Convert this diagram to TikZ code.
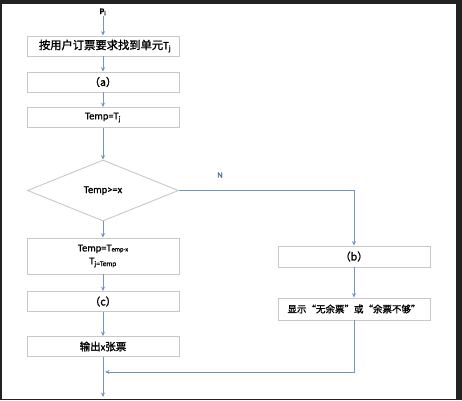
\documentclass[tikz,border=0pt]{standalone}
\usepackage{fontspec}
\setmainfont{Carlito}[FakeBold=1]
\newfontfamily\cjk{Noto Sans CJK SC}[FakeBold=1.5]
\usetikzlibrary{shapes.geometric,arrows.meta}
\definecolor{arrowc}{HTML}{7096C4}
\definecolor{boxc}{HTML}{C8C8C8}
\definecolor{framec}{HTML}{222222}
\definecolor{labc}{HTML}{4A6A96}
\tikzset{
  box/.style={draw=boxc, line width=0.9pt, minimum width=152pt, minimum height=20pt, inner sep=0pt, align=center, font=\fontsize{10.5}{12}\selectfont},
  flow/.style={draw=arrowc, line width=0.9pt, -{Stealth[length=4.5pt,width=4pt]}}
}
\begin{document}
\begin{tikzpicture}[x=1pt,y=-1pt]
\fill[framec] (0,0) rectangle (462,400);
\fill[white] (2,4) rectangle (456,399);
\useasboundingbox (0,0) rectangle (462,400);

\node[font=\fontsize{8.5}{9}\selectfont\bfseries, inner sep=0pt] (p) at (103,12) {P\textsubscript{i}};
\node[box, font=\fontsize{11.3}{13}\selectfont] (b1) at (103,46) {\hspace*{4pt}{\cjk 按用户订票要求找到单元}T\textsubscript{j}};
\node[box] (b2) at (103,82) {{\cjk （a）}};
\node[box] (b3) at (103,117.5) {Temp=T\textsubscript{j}};
\node[draw=boxc, line width=0.9pt, shape=diamond, aspect=2.475, minimum width=151pt, minimum height=61pt, inner sep=0pt, font=\fontsize{10.5}{12}\selectfont] (dia) at (103,190.5) {Temp>=x};
\node[box, minimum height=36pt] (b4) at (103,256) {Temp=T{\fontsize{6.5}{7}\selectfont emp-x}\\[1pt] T\textsubscript{j=Temp}};
\node[box] (b5) at (103,301.5) {{\cjk （c）}};
\node[box] (b6) at (103,346.5) {{\cjk 输出}x{\cjk 张票}};
\node[box, minimum height=21pt] (bb) at (354,256.5) {{\cjk （b）}};
\node[box, minimum height=22pt] (bd) at (354,309) {{\cjk\fontsize{9.5}{11}\selectfont 显示“无余票”或“余票不够”}};
\node[font=\fontsize{8}{9}\selectfont, text=labc, inner sep=0pt] (n) at (220,175) {N};
\coordinate (m) at (105,372);
\coordinate (e) at (103,397);

\draw[flow] (p) -- (b1);
\draw[flow] (b1) -- (b2);
\draw[flow] (b2) -- (b3);
\draw[flow] (b3) -- (dia);
\draw[flow] (dia) -- (b4);
\draw[flow] (b4) -- (b5);
\draw[flow] (b5) -- (b6);
\draw[flow] (dia.east) -| (bb);
\draw[flow] (bb) -- (bd);
\draw[flow] (bd.south) |- (m);
\draw[flow] (b6) -- (e);
\end{tikzpicture}
\end{document}
